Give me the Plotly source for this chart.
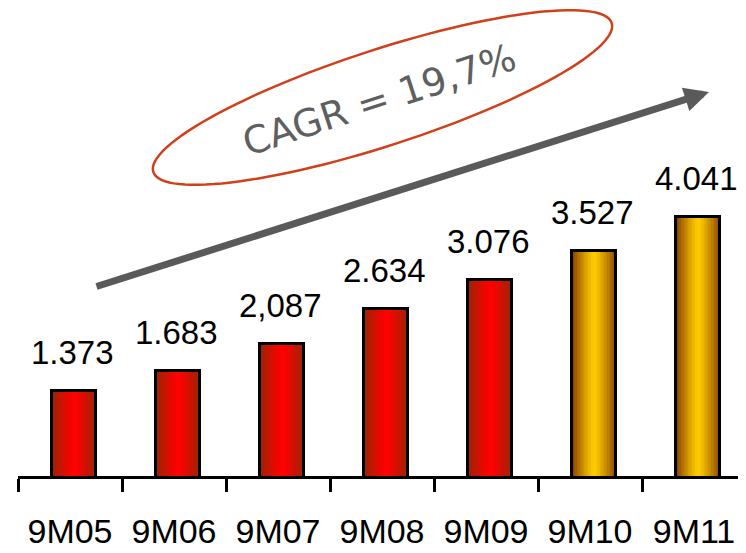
import numpy as np
import plotly.graph_objects as go

categories = ["9M05", "9M06", "9M07", "9M08", "9M09", "9M10", "9M11"]
values = [1.373, 1.683, 2.087, 2.634, 3.076, 3.527, 4.041]
value_labels = ["1.373", "1.683", "2,087", "2.634", "3.076", "3.527", "4.041"]
bar_kind = ["red", "red", "red", "red", "red", "gold", "gold"]
cagr_text = "CAGR = 19,7%"

# the page body adds an 8px offset; figure is sized so it ends at the window edge
OFF = 8
W, H = 746 - OFF, 553 - OFF
ML, MR, MT, MB = 18 - OFF, 0, 0, 77
PW, PH = W - ML - MR, H - MT - MB

def px_to_paper(px, py):
    fx, fy = px - OFF, py - OFF
    return (fx - ML) / PW, (H - MB - fy) / PH

grad = {
    "red": ((255, 0, 0), (150, 38, 0)),
    "gold": ((255, 204, 0), (135, 65, 0)),
}

def strip_color(kind, t):
    c, e = grad[kind]
    f = min(1.0, abs(t) ** 1.25)
    r, g, b = [int(round(c[k] * (1 - f) + e[k] * f)) for k in range(3)]
    return f"rgb({r},{g},{b})"

fig = go.Figure()

bw = 0.42
shift = 0.04
N = 30
step = bw / N
for i in range(N):
    t = -1 + (2 * i + 1) / N
    wdt = step * 1.4 if i < N - 1 else step
    fig.add_trace(go.Bar(
        x=categories, y=values,
        width=[wdt] * len(categories),
        offset=[-bw / 2 + shift + i * step] * len(categories),
        marker=dict(color=[strip_color(k, t) for k in bar_kind], line=dict(width=0)),
        hoverinfo="skip", showlegend=False,
    ))

fig.add_trace(go.Bar(
    x=categories, y=values,
    width=[bw] * len(categories),
    offset=[-bw / 2 + shift] * len(categories),
    marker=dict(color="rgba(0,0,0,0)", line=dict(width=3, color="black")),
    showlegend=False,
))

annotations = []
for c, v, lab in zip(categories, values, value_labels):
    annotations.append(dict(
        x=c, y=v, xref="x", yref="y", text=lab, showarrow=False,
        yanchor="bottom", yshift=18, xshift=2,
        font=dict(family="Liberation Sans, Arial", size=33, color="black"),
    ))

# CAGR text
tx, ty = px_to_paper(379, 100)
annotations.append(dict(
    x=tx, y=ty, xref="paper", yref="paper", text=cagr_text, showarrow=False,
    textangle=-18, xanchor="center", yanchor="middle",
    font=dict(family="DejaVu Sans", size=38, color="#5f5f5f"),
))

# trend arrow
ax_tip, ay_tip = px_to_paper(709, 92)
annotations.append(dict(
    x=ax_tip, y=ay_tip, xref="paper", yref="paper", text="",
    showarrow=True, ax=95 - 709, ay=287 - 92, axref="pixel", ayref="pixel",
    arrowhead=2, arrowsize=0.7, arrowwidth=7, arrowcolor="#5a5a5a", standoff=0,
))

# ellipse around CAGR text
cx, cy, a, b, th = 382.5, 97.5, 241, 48, np.deg2rad(18)
s = np.linspace(0, 2 * np.pi, 121)
ex = cx + a * np.cos(s) * np.cos(th) + b * np.sin(s) * np.sin(th)
ey = cy - a * np.cos(s) * np.sin(th) + b * np.sin(s) * np.cos(th)
pts = [px_to_paper(x, y) for x, y in zip(ex, ey)]
path = "M " + " L ".join(f"{p[0]:.5f},{p[1]:.5f}" for p in pts) + " Z"

fig.update_layout(
    width=W, height=H,
    margin=dict(l=ML, r=MR, t=MT, b=MB, pad=0),
    paper_bgcolor="white", plot_bgcolor="white",
    barmode="overlay", bargap=0,
    showlegend=False,
    annotations=annotations,
    shapes=[dict(type="path", path=path, xref="paper", yref="paper",
                 line=dict(color="#d0401a", width=2.5), fillcolor="rgba(0,0,0,0)")],
    xaxis=dict(
        type="category", range=[-0.5, 6.5], showgrid=False, zeroline=False,
        showline=True, linecolor="black", linewidth=3,
        ticks="outside", tickson="boundaries", ticklen=13, tickwidth=3, tickcolor="black",
        tickfont=dict(family="Liberation Sans, Arial", size=34, color="black"),
        ticklabelstandoff=23, automargin=False,
    ),
    yaxis=dict(range=[4 / 65, 4 / 65 + PH / 65], visible=False, showgrid=False, zeroline=False),
)

fig.write_html("out.html")
